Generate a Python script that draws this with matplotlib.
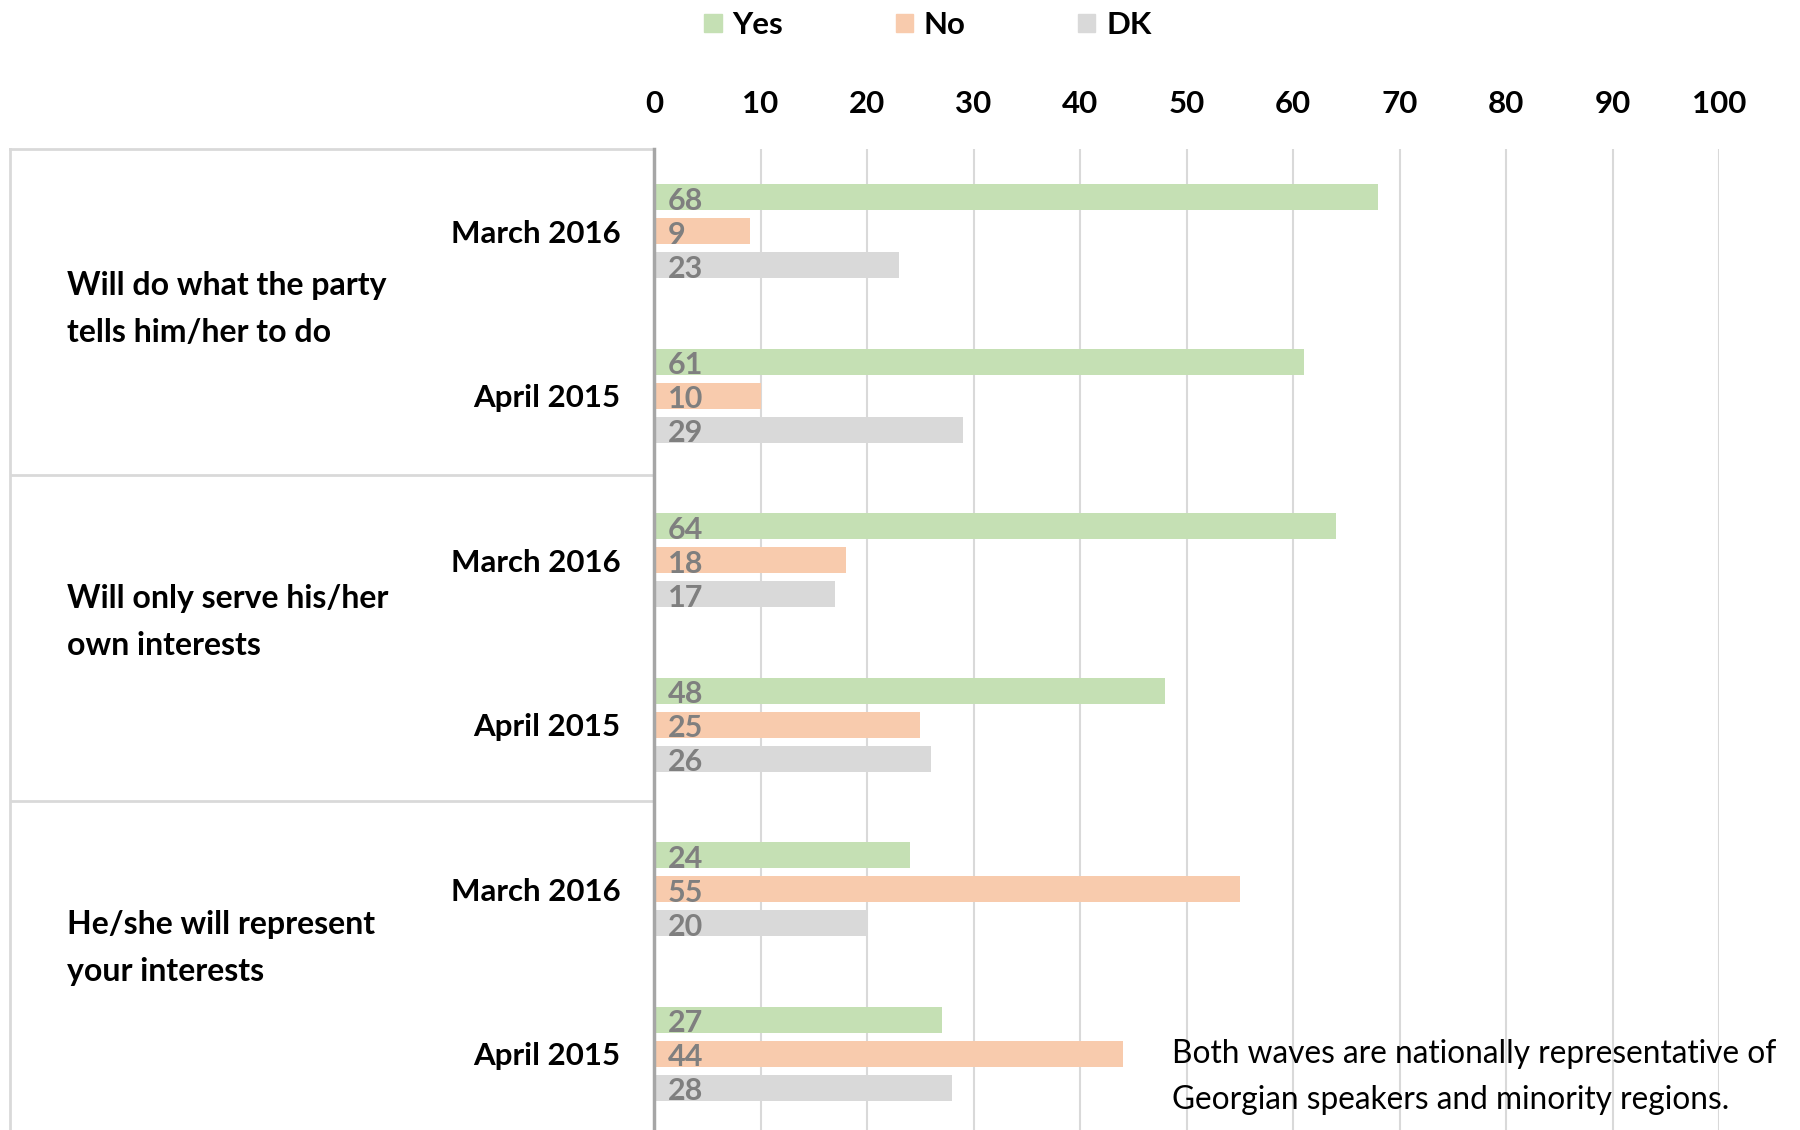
import matplotlib.pyplot as plt
from matplotlib.patches import Patch

plt.rcParams['font.family'] = ['Lato', 'DejaVu Sans']

questions = ['Will do what the party\ntells him/her to do',
             'Will only serve his/her\nown interests',
             'He/she will represent\nyour interests']
waves = ['March 2016', 'April 2015']
answers = ['Yes', 'No', 'DK']
yes = [68, 61, 64, 48, 24, 27]
no = [9, 10, 18, 25, 55, 44]
dk = [23, 29, 17, 26, 20, 28]
colors = ['#C5E0B4', '#F8CBAD', '#D9D9D9']
ticks = list(range(0, 101, 10))
note = 'Both waves are nationally representative of\nGeorgian speakers and minority regions.'

W, H = 1800, 1130
top = 149          # px from figure top where plot area starts
slot = 164.5       # px per wave cluster
step = 34          # px between bars in a cluster
bar_h = 26
seps = [326, 652]          # question separators, px below top
label_y = [160, 473, 799]  # question label centres, px below top

fig = plt.figure(figsize=(W / 100, H / 100), dpi=100)

# left box with question labels
axl = fig.add_axes([10 / W, 0, (654 - 10) / W, (H - top) / H])
axl.set_xlim(0, 644)
axl.set_ylim(H - top, 0)
for s in ['right', 'bottom']:
    axl.spines[s].set_visible(False)
for s in ['left', 'top']:
    axl.spines[s].set_color('#D9D9D9')
    axl.spines[s].set_linewidth(2)
axl.set_xticks([])
axl.set_yticks([])
for y in seps:
    axl.axhline(y, color='#D9D9D9', lw=2)
for y, label in zip(label_y, questions):
    axl.text(57, y, label, ha='left', va='center',
             fontsize=23, fontweight='bold', linespacing=1.75)

# bar chart
ax = fig.add_axes([654 / W, 0, (1719 - 654) / W, (H - top) / H])
ax.set_xlim(0, 100)
ax.set_ylim(H - top, 0)
series = [yes, no, dk]
centers = []
for k in range(len(yes)):
    base = k * slot + slot / 2 - step
    for j, vals in enumerate(series):
        y = base + j * step
        ax.barh(y, vals[k], height=bar_h, color=colors[j])
        ax.annotate(str(vals[k]), (0, y), xytext=(10, -2.5), textcoords='offset points',
                    ha='left', va='center', fontsize=22, fontweight='bold', color='#7F7F7F')
    centers.append(base + step)

ax.set_yticks(centers)
ax.set_yticklabels(waves * len(questions), fontsize=22.5, fontweight='bold')
ax.tick_params(axis='y', length=0, pad=24)

ax.xaxis.tick_top()
ax.set_xticks(ticks)
ax.set_xticklabels([str(t) for t in ticks], fontsize=22.5, fontweight='bold')
ax.tick_params(axis='x', length=0, pad=22)
ax.grid(axis='x', color='#D9D9D9', lw=1.5)
ax.set_axisbelow(True)
for s in ['right', 'bottom', 'top']:
    ax.spines[s].set_visible(False)
ax.spines['left'].set_color('#A6A6A6')
ax.spines['left'].set_linewidth(2.5)
ax.spines['left'].set_zorder(5)

handles = [Patch(color=c, label=a) for c, a in zip(colors, answers)]
fig.legend(handles=handles, loc='center', bbox_to_anchor=(928 / W, 1 - 25 / H),
           ncol=3, frameon=False, handlelength=0.55, handleheight=0.55,
           handletextpad=0.35, columnspacing=3.6,
           prop={'weight': 'bold', 'size': 22.5})

fig.text(1172 / W, 1 - 1077 / H, note, ha='left', va='center', fontsize=22.8,
         linespacing=1.7)

fig.savefig('out.png', dpi=100)
